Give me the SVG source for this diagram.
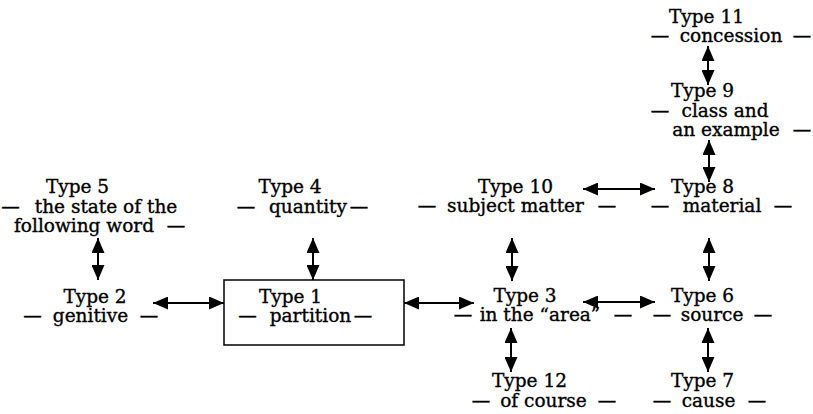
<svg xmlns="http://www.w3.org/2000/svg" width="813" height="414" viewBox="0 0 813 414">
<style>
text { font-family: "DejaVu Serif", "Liberation Serif", serif; font-size: 18.5px; fill: #000; stroke: #000; stroke-width: 0.35; text-anchor: middle; }
.conn { stroke: #000; stroke-width: 2; fill: none; marker-start: url(#ah); marker-end: url(#ah); }
.box { fill: none; stroke: #000; stroke-width: 1.5; }
</style>
<defs>
<marker id="ah" viewBox="0 0 15 13" refX="15" refY="6.5" markerWidth="15" markerHeight="13" markerUnits="userSpaceOnUse" orient="auto-start-reverse">
<path d="M0,0 L15,6.5 L0,13 Z" fill="#000"/>
</marker>
</defs>
<rect width="813" height="414" fill="#fff"/>

<g id="connectors">
<line class="conn" x1="98" y1="238" x2="98" y2="280"/>
<line class="conn" x1="313" y1="238" x2="313" y2="280"/>
<line class="conn" x1="512" y1="238" x2="512" y2="281"/>
<line class="conn" x1="709" y1="238" x2="709" y2="281"/>
<line class="conn" x1="708" y1="46" x2="708" y2="85"/>
<line class="conn" x1="709" y1="140" x2="709" y2="182"/>
<line class="conn" x1="583" y1="189" x2="655" y2="189"/>
<line class="conn" x1="153" y1="303" x2="224" y2="303"/>
<line class="conn" x1="404" y1="303" x2="474" y2="303"/>
<line class="conn" x1="583" y1="302" x2="655" y2="302"/>
<line class="conn" x1="511" y1="328" x2="511" y2="372"/>
<line class="conn" x1="708" y1="328" x2="708" y2="372"/>
</g>

<g id="type11">
<text x="706.5" y="23">Type 11</text>
<text y="42"><tspan x="660">—</tspan><tspan x="731">concession</tspan><tspan x="802">—</tspan></text>
</g>
<g id="type9">
<text x="702.5" y="97">Type 9</text>
<text y="117"><tspan x="660">—</tspan><tspan x="725">class and</tspan></text>
<text y="136"><tspan x="726">an example</tspan><tspan x="802">—</tspan></text>
</g>
<g id="type5">
<text x="77.5" y="193">Type 5</text>
<text y="213"><tspan x="10.5">—</tspan><tspan x="106">the state of the</tspan></text>
<text y="232"><tspan x="84">following word</tspan><tspan x="176">—</tspan></text>
</g>
<g id="type4">
<text x="290" y="193">Type 4</text>
<text y="213"><tspan x="246">—</tspan><tspan x="308">quantity</tspan><tspan x="359">—</tspan></text>
</g>
<g id="type10">
<text x="515.5" y="193">Type 10</text>
<text y="212"><tspan x="427">—</tspan><tspan x="515.5">subject matter</tspan><tspan x="607">—</tspan></text>
</g>
<g id="type8">
<text x="702.5" y="193">Type 8</text>
<text y="212"><tspan x="660">—</tspan><tspan x="722">material</tspan><tspan x="783">—</tspan></text>
</g>
<g id="type2">
<text x="95" y="303">Type 2</text>
<text y="322"><tspan x="32.5">—</tspan><tspan x="90.5">genitive</tspan><tspan x="149">—</tspan></text>
</g>
<g id="type1">
<rect class="box" x="224" y="280" width="180" height="65"/>
<text x="290.5" y="303">Type 1</text>
<text y="322"><tspan x="247.5">—</tspan><tspan x="310.5">partition</tspan><tspan x="363">—</tspan></text>
</g>
<g id="type3">
<text x="525" y="302">Type 3</text>
<text y="321"><tspan x="463">—</tspan><tspan x="540">in the “area”</tspan><tspan x="623">—</tspan></text>
</g>
<g id="type6">
<text x="702.5" y="302">Type 6</text>
<text y="321"><tspan x="662">—</tspan><tspan x="712">source</tspan><tspan x="763">—</tspan></text>
</g>
<g id="type12">
<text x="529.5" y="387">Type 12</text>
<text y="407"><tspan x="481">—</tspan><tspan x="543.5">of course</tspan><tspan x="607">—</tspan></text>
</g>
<g id="type7">
<text x="702.5" y="387">Type 7</text>
<text y="407"><tspan x="662">—</tspan><tspan x="708.5">cause</tspan><tspan x="757">—</tspan></text>
</g>
</svg>
